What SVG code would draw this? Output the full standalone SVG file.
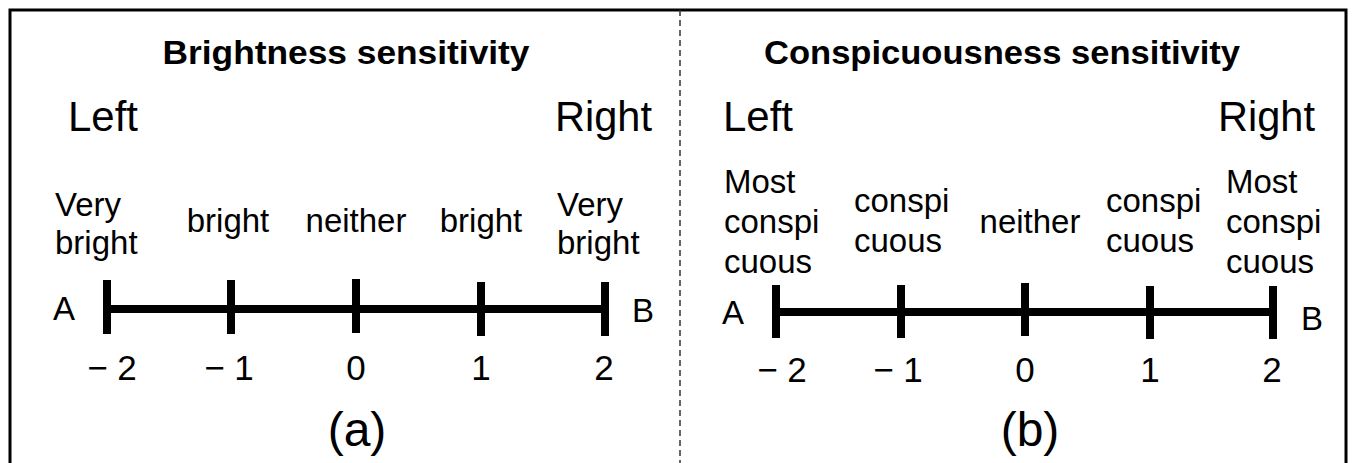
<svg xmlns="http://www.w3.org/2000/svg" width="1354" height="463" viewBox="0 0 1354 463">
<style>
text{font-family:"Liberation Sans",Arial,sans-serif;fill:#000}
.t{font-weight:bold;font-size:34px;text-anchor:middle}
.lr{font-size:42px}
.lb{font-size:33px}
.m{text-anchor:middle}
.n{font-size:35px;text-anchor:middle}
.p{font-size:48px;text-anchor:middle}
.ax{stroke:#000;stroke-width:8;fill:none}
</style>
<rect x="10" y="10" width="1336" height="480" fill="#fff" stroke="#000" stroke-width="3"/>
<line x1="680" y1="10" x2="680" y2="463" stroke="#333" stroke-width="1.5" stroke-dasharray="6,4"/>
<g id="panel-a">
<text class="t" x="346" y="64" textLength="367" lengthAdjust="spacingAndGlyphs">Brightness sensitivity</text>
<text class="lr" x="68" y="131" textLength="70" lengthAdjust="spacingAndGlyphs">Left</text>
<text class="lr" x="555" y="131" textLength="97" lengthAdjust="spacingAndGlyphs">Right</text>
<text class="lb" x="55" y="216">Very</text>
<text class="lb" x="55" y="254">bright</text>
<text class="lb m" x="228" y="232">bright</text>
<text class="lb m" x="356" y="232">neither</text>
<text class="lb m" x="481" y="232">bright</text>
<text class="lb" x="557" y="216">Very</text>
<text class="lb" x="557" y="254">bright</text>
<text class="lb" x="53" y="320">A</text>
<text class="lb" x="632" y="322">B</text>
<text class="n" x="112" y="380">− 2</text>
<text class="n" x="229" y="380">− 1</text>
<text class="n" x="356" y="380">0</text>
<text class="n" x="481" y="380">1</text>
<text class="n" x="604" y="380">2</text>
<text class="p" x="357" y="446">(a)</text>
</g>
<g id="panel-b">
<text class="t" x="1002" y="64" textLength="476" lengthAdjust="spacingAndGlyphs">Conspicuousness sensitivity</text>
<text class="lr" x="723" y="131" textLength="70" lengthAdjust="spacingAndGlyphs">Left</text>
<text class="lr" x="1218" y="131" textLength="97" lengthAdjust="spacingAndGlyphs">Right</text>
<text class="lb" x="724" y="193">Most</text>
<text class="lb" x="724" y="233">conspi</text>
<text class="lb" x="724" y="273">cuous</text>
<text class="lb" x="854" y="212">conspi</text>
<text class="lb" x="854" y="252">cuous</text>
<text class="lb m" x="1030" y="233">neither</text>
<text class="lb" x="1106" y="212">conspi</text>
<text class="lb" x="1106" y="252">cuous</text>
<text class="lb" x="1226" y="193">Most</text>
<text class="lb" x="1226" y="233">conspi</text>
<text class="lb" x="1226" y="273">cuous</text>
<text class="lb" x="722" y="324">A</text>
<text class="lb" x="1301" y="330">B</text>
<text class="n" x="782" y="382">− 2</text>
<text class="n" x="898" y="382">− 1</text>
<text class="n" x="1025" y="382">0</text>
<text class="n" x="1150" y="382">1</text>
<text class="n" x="1272" y="382">2</text>
<text class="p" x="1030" y="446">(b)</text>
</g>
<g id="connectors">
<line class="ax" x1="107" y1="309" x2="605" y2="309"/>
<line class="ax" x1="107" y1="280" x2="107" y2="334"/>
<line class="ax" x1="231" y1="280" x2="231" y2="334"/>
<line class="ax" x1="356" y1="279" x2="356" y2="333"/>
<line class="ax" x1="481" y1="282" x2="481" y2="336"/>
<line class="ax" x1="605" y1="282" x2="605" y2="336"/>
<line class="ax" x1="776" y1="312" x2="1273" y2="312"/>
<line class="ax" x1="776" y1="285" x2="776" y2="338"/>
<line class="ax" x1="901" y1="285" x2="901" y2="338"/>
<line class="ax" x1="1025" y1="283" x2="1025" y2="336"/>
<line class="ax" x1="1150" y1="286" x2="1150" y2="339"/>
<line class="ax" x1="1273" y1="286" x2="1273" y2="339"/>
</g>
</svg>
